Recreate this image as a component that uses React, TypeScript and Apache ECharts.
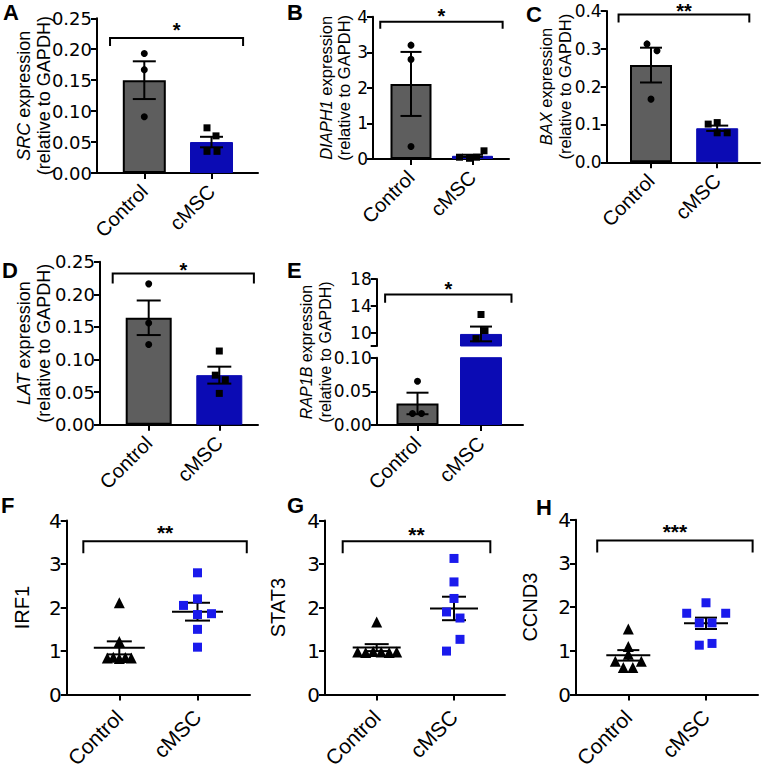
import React, { useEffect, useRef } from "react";
import * as echarts from "echarts";

// ---------- data ----------
const groups = ["Control", "cMSC"];

// A — SRC (bar, mean ± SEM)
const srcMean = [0.15, 0.05];
const srcSem = [0.0305, 0.0085];
const srcCtrl = [0.193, 0.167, 0.091];
const srcCmsc = [0.073, 0.06, 0.035, 0.035];
const srcCtrlJit = [0, 0, 0];
const srcCmscJit = [-4.5, 4.5, -4.5, 5.5];
const srcTicks = [0, 0.05, 0.1, 0.15, 0.2, 0.25];

// B — DIAPH1
const diaMean = [2.11, 0.09];
const diaSem = [0.9, 0.03];
const diaCtrl = [3.2, 2.8, 0.35];
const diaCmsc = [0.23, 0.05, 0.02, 0.05];
const diaCtrlJit = [0, 0, 0];
const diaCmscJit = [11.5, -13, -3, 4];
const diaTicks = [0, 1, 2, 3, 4];

// C — BAX
const baxMean = [0.257, 0.09];
const baxSem = [0.046, 0.007];
const baxCtrl = [0.313, 0.295, 0.167];
const baxCmsc = [0.101, 0.105, 0.078, 0.078];
const baxCtrlJit = [-4, 6, 0];
const baxCmscJit = [-9, 0, 0, 10];
const baxTicks = [0, 0.1, 0.2, 0.3, 0.4];

// D — LAT
const latMean = [0.164, 0.076];
const latSem = [0.0265, 0.013];
const latCtrl = [0.216, 0.156, 0.123];
const latCmsc = [0.113, 0.076, 0.069, 0.048];
const latCtrlJit = [0, 0, 0];
const latCmscJit = [0, -4, 6, 0];
const latTicks = [0, 0.05, 0.1, 0.15, 0.2, 0.25];

// E — RAP1B (broken axis)
const rapMean = [0.032, 9.8];
const rapSem = [0.016, 1.1];
const rapCtrl = [0.065, 0.017, 0.017];
const rapCmsc = [12.7, 10.3, 9.1];
const rapCtrlJit = [0, -5, 4];
const rapCmscJit = [0, 4, -5];
const rapLowTicks = [0, 0.05, 0.1];
const rapHighTicks = [8, 10, 14, 18];
const rapHighLabels = [10, 14, 18];

// F — IRF1 (dot plot, mean ± SEM)
const irfCtrl = [2.11, 1.22, 0.84, 0.86, 0.83, 0.85, 0.84];
const irfCmsc = [2.8, 2.2, 2.05, 1.84, 1.86, 1.5, 1.09];
const irfCtrlJit = [0, 0, -12, -6, 0, 6, 12];
const irfCmscJit = [0, 0, -14, 0, 14, 0, 0];
const irfMean = [1.074, 1.906];
const irfSem = [0.15, 0.205];

// G — STAT3
const statCtrl = [1.67, 0.98, 0.97, 0.99, 0.98, 0.97, 0.98];
const statCmsc = [3.13, 2.59, 2.21, 1.9, 1.76, 1.27, 1.0];
const statCtrlJit = [0, -19, -11, -3.5, 4.5, 12.5, 20];
const statCmscJit = [0, 0, 0, -7.5, 6, 6, -7.5];
const statMean = [1.08, 1.98];
const statSem = [0.08, 0.27];

// H — CCND3
const ccnCtrl = [1.5, 1.1, 0.92, 0.76, 0.76, 0.62, 0.62];
const ccnCmsc = [2.1, 1.86, 1.86, 1.64, 1.64, 1.13, 1.17];
const ccnCtrlJit = [0, 0, 0, -13, 13, -5, 4.5];
const ccnCmscJit = [0, -19.3, 19.7, -6.7, 6, -6.7, 6];
const ccnMean = [0.897, 1.63];
const ccnSem = [0.12, 0.13];

const dotTicks = [0, 1, 2, 3, 4];

// ---------- styles ----------
const BLUE_BAR = "#0b0bb4";
const BLUE_PT = "#1a1aec";
const GRAY = "#5e5e5e";
const TICK_FONT = "DejaVu Sans";
const TEXT_FONT = "Liberation Sans";

type Box = { left: number; right: number; top: number; bottom: number };

function buildOption() {
  const grid: any[] = [];
  const xAxis: any[] = [];
  const yAxis: any[] = [];
  const series: any[] = [];
  const graphic: any[] = [];

  const addGrid = (b: Box) => {
    grid.push({
      left: b.left,
      top: b.top,
      width: b.right - b.left,
      height: b.bottom - b.top,
      containLabel: false,
    });
    return grid.length - 1;
  };

  const addX = (
    gi: number,
    b: Box,
    ctrlPx: number,
    cmPx: number,
    fs: number,
    margin: number,
    show = true
  ) => {
    const unit = cmPx - ctrlPx;
    xAxis.push({
      type: "value",
      gridIndex: gi,
      show,
      min: (b.left - ctrlPx) / unit,
      max: (b.right - ctrlPx) / unit,
      axisLine: { show: true, onZero: false, lineStyle: { color: "#000", width: 2 } },
      axisTick: { show: true, customValues: [0, 1], length: 6, lineStyle: { color: "#000", width: 2 } },
      axisLabel: {
        show: true,
        customValues: [0, 1],
        formatter: (v: number) => groups[Math.round(v)] ?? "",
        rotate: 45,
        margin,
        fontSize: fs,
        fontFamily: TEXT_FONT,
        color: "#000",
      },
      splitLine: { show: false },
    });
    return unit;
  };

  const nameStyle = (fs: number, lh: number) => ({
    fontSize: fs,
    fontFamily: TEXT_FONT,
    color: "#000",
    lineHeight: lh,
    rich: {
      it: { fontStyle: "italic", fontSize: fs, fontFamily: TEXT_FONT, color: "#000", lineHeight: lh },
    },
  });

  const addY = (
    gi: number,
    ticks: number[],
    labels: number[],
    dec: number,
    fs: number,
    name: string,
    nameGap: number,
    nameFs: number,
    lh: number
  ) => {
    yAxis.push({
      type: "value",
      gridIndex: gi,
      min: ticks[0],
      max: ticks[ticks.length - 1],
      axisLine: { show: true, onZero: false, lineStyle: { color: "#000", width: 2 } },
      axisTick: { show: true, customValues: ticks, length: 6, lineStyle: { color: "#000", width: 2 } },
      axisLabel: {
        show: true,
        customValues: labels,
        formatter: (v: number) => v.toFixed(dec),
        margin: 5,
        fontSize: fs,
        fontFamily: TICK_FONT,
        color: "#000",
      },
      splitLine: { show: false },
      name,
      nameLocation: "middle",
      nameRotate: 90,
      nameGap,
      nameMoveOverlap: false,
      nameTextStyle: nameStyle(nameFs, lh),
    });
  };

  const addBars = (gi: number, items: { g: number; v: number }[], bw: number) => {
    series.push({
      type: "bar",
      xAxisIndex: gi,
      yAxisIndex: gi,
      barWidth: bw,
      clip: true,
      z: 2,
      silent: true,
      data: items.map((it) => ({
        value: [it.g, it.v],
        itemStyle:
          it.g === 0
            ? { color: GRAY, borderColor: "#000", borderWidth: 2 }
            : { color: BLUE_BAR, borderColor: BLUE_BAR, borderWidth: 1 },
      })),
    });
  };

  const addErr = (
    gi: number,
    items: { g: number; m: number; s: number }[],
    capHalf: number,
    meanHalf: number
  ) => {
    series.push({
      type: "custom",
      xAxisIndex: gi,
      yAxisIndex: gi,
      z: 3,
      clip: false,
      silent: true,
      encode: { x: 0, y: 1 },
      data: items.map((it) => [it.g, it.m, it.m - it.s, it.m + it.s]),
      renderItem: (_p: any, api: any) => {
        const x = api.value(0);
        const c = api.coord([x, api.value(1)]);
        const a = api.coord([x, api.value(2)]);
        const b = api.coord([x, api.value(3)]);
        const st = { stroke: "#000", lineWidth: 2 };
        const ch: any[] = [
          { type: "line", shape: { x1: c[0], y1: a[1], x2: c[0], y2: b[1] }, style: st },
          { type: "line", shape: { x1: c[0] - capHalf, y1: b[1], x2: c[0] + capHalf, y2: b[1] }, style: st },
          { type: "line", shape: { x1: c[0] - capHalf, y1: a[1], x2: c[0] + capHalf, y2: a[1] }, style: st },
        ];
        if (meanHalf > 0) {
          ch.push({ type: "line", shape: { x1: c[0] - meanHalf, y1: c[1], x2: c[0] + meanHalf, y2: c[1] }, style: st });
        }
        return { type: "group", children: ch };
      },
    });
  };

  const addPts = (
    gi: number,
    g: number,
    vals: number[],
    jit: number[],
    unit: number,
    symbol: string,
    size: number,
    color: string
  ) => {
    series.push({
      type: "scatter",
      xAxisIndex: gi,
      yAxisIndex: gi,
      z: 4,
      silent: true,
      symbol,
      symbolSize: size,
      itemStyle: { color, opacity: 1 },
      data: vals.map((v, i) => [g + jit[i] / unit, v]),
    });
  };

  const addBracket = (
    gi: number,
    x1: number,
    x2: number,
    y: number,
    drop: number,
    stars: string,
    starOff: number,
    starFs: number
  ) => {
    series.push({
      type: "custom",
      xAxisIndex: gi,
      yAxisIndex: gi,
      z: 5,
      clip: false,
      silent: true,
      encode: { x: [0, 1], y: 2 },
      data: [[x1, x2, y]],
      renderItem: (_p: any, api: any) => {
        const a = api.coord([api.value(0), api.value(2)]);
        const b = api.coord([api.value(1), api.value(2)]);
        return {
          type: "group",
          children: [
            {
              type: "polyline",
              shape: { points: [[a[0], a[1] + drop], [a[0], a[1]], [b[0], b[1]], [b[0], b[1] + drop]] },
              style: { stroke: "#000", lineWidth: 2, fill: "none" },
            },
            {
              type: "text",
              x: (a[0] + b[0]) / 2,
              y: a[1] - starOff,
              style: {
                text: stars,
                align: "center",
                verticalAlign: "middle",
                fontSize: starFs,
                fontWeight: "bold",
                fontFamily: TEXT_FONT,
                fill: "#000",
              },
            },
          ],
        };
      },
    });
  };

  // ---- generic bar panel ----
  const barPanel = (
    b: Box,
    ctrlPx: number,
    cmPx: number,
    ticks: number[],
    dec: number,
    tickFs: number,
    title: string,
    nameGap: number,
    nameFs: number,
    lh: number,
    mean: number[],
    sem: number[],
    ctrl: number[],
    cm: number[],
    ctrlJit: number[],
    cmJit: number[],
    bw: number,
    cap: number,
    br: [number, number, number, number, string, number]
  ) => {
    const gi = addGrid(b);
    const unit = addX(gi, b, ctrlPx, cmPx, 20, 15);
    addY(gi, ticks, ticks, dec, tickFs, title, nameGap, nameFs, lh);
    addBars(gi, [{ g: 0, v: mean[0] }, { g: 1, v: mean[1] }], bw);
    addErr(gi, [{ g: 0, m: mean[0], s: sem[0] }, { g: 1, m: mean[1], s: sem[1] }], cap, 0);
    addPts(gi, 0, ctrl, ctrlJit, unit, "circle", 7, "#000");
    addPts(gi, 1, cm, cmJit, unit, "rect", 7, "#000");
    addBracket(gi, br[0], br[1], br[2], br[3], br[4], br[5], 20);
  };

  // ---- generic dot panel ----
  const dotPanel = (
    b: Box,
    ctrlPx: number,
    cmPx: number,
    title: string,
    nameGap: number,
    mean: number[],
    sem: number[],
    ctrl: number[],
    cm: number[],
    ctrlJit: number[],
    cmJit: number[],
    cap: number,
    meanHalf: number,
    br: [number, number, number, number, string, number]
  ) => {
    const gi = addGrid(b);
    const unit = addX(gi, b, ctrlPx, cmPx, 21, 19);
    addY(gi, dotTicks, dotTicks, 0, 20, title, nameGap, 20, 20);
    addPts(gi, 0, ctrl, ctrlJit, unit, "triangle", 11, "#000");
    addPts(gi, 1, cm, cmJit, unit, "rect", 9, BLUE_PT);
    addErr(gi, [{ g: 0, m: mean[0], s: sem[0] }, { g: 1, m: mean[1], s: sem[1] }], cap, meanHalf);
    addBracket(gi, br[0], br[1], br[2], br[3], br[4], br[5], 21);
  };

  // A
  barPanel(
    { left: 97, right: 258, top: 18.3, bottom: 173 },
    144.3, 211.5, srcTicks, 2, 18, "{it|SRC} expression\n(relative to GAPDH)", 43, 18, 20,
    srcMean, srcSem, srcCtrl, srcCmsc, srcCtrlJit, srcCmscJit, 43, 11.5,
    [-0.51, 1.47, 0.218, 8, "*", 8]
  );
  // B
  barPanel(
    { left: 373, right: 509, top: 16.7, bottom: 159 },
    411, 472.5, diaTicks, 0, 17, "{it|DIAPH1} expression\n(relative to GAPDH)", 19.5, 16.5, 18.5,
    diaMean, diaSem, diaCtrl, diaCmsc, diaCtrlJit, diaCmscJit, 41, 10.5,
    [-0.5, 1.49, 3.86, 7, "*", 5.5]
  );
  // C
  barPanel(
    { left: 606.7, right: 760, top: 11, bottom: 162.3 },
    651, 717.2, baxTicks, 1, 17, "{it|BAX} expression\n(relative to GAPDH)", 32, 16.5, 19,
    baxMean, baxSem, baxCtrl, baxCmsc, baxCtrlJit, baxCmscJit, 42, 11,
    [-0.49, 1.485, 0.391, 8, "**", 3]
  );
  // D
  barPanel(
    { left: 100, right: 258, top: 261.7, bottom: 424.7 },
    148.7, 219.3, latTicks, 2, 18, "{it|LAT} expression\n(relative to GAPDH)", 46, 18, 20,
    latMean, latSem, latCtrl, latCmsc, latCtrlJit, latCmscJit, 46, 12,
    [-0.51, 1.49, 0.232, 10, "*", 3]
  );

  // E — broken axis
  {
    const ctrlPx = 417.5;
    const cmPx = 481;
    const up: Box = { left: 376.7, right: 523, top: 279, bottom: 346 };
    const lo: Box = { left: 376.7, right: 523, top: 357.7, bottom: 425 };
    const giU = addGrid(up);
    const unitU = addX(giU, up, ctrlPx, cmPx, 20, 15, false);
    addY(giU, rapHighTicks, rapHighLabels, 0, 17, "", 0, 16, 19);
    const giL = addGrid(lo);
    const unitL = addX(giL, lo, ctrlPx, cmPx, 20, 15);
    addY(giL, rapLowTicks, rapLowTicks, 2, 17, "", 0, 16, 19);
    addBars(giU, [{ g: 1, v: rapMean[1] }], 42);
    addBars(giL, [{ g: 0, v: rapMean[0] }, { g: 1, v: rapMean[1] }], 42);
    addErr(giU, [{ g: 1, m: rapMean[1], s: rapSem[1] }], 11, 0);
    addErr(giL, [{ g: 0, m: rapMean[0], s: rapSem[0] }], 11, 0);
    addPts(giL, 0, rapCtrl, rapCtrlJit, unitL, "circle", 7, "#000");
    addPts(giU, 1, rapCmsc, rapCmscJit, unitU, "rect", 7, "#000");
    addBracket(giU, -0.51, 1.48, 15.7, 8.4, "*", 5, 20);
    // title-only axis spanning both segments
    const giT = addGrid({ left: 376.7, right: 523, top: 279, bottom: 425 });
    xAxis.push({ type: "value", gridIndex: giT, show: false, min: 0, max: 1 });
    yAxis.push({
      type: "value",
      gridIndex: giT,
      min: 0,
      max: 1,
      axisLine: { show: false },
      axisTick: { show: false },
      axisLabel: { show: false },
      splitLine: { show: false },
      name: "{it|RAP1B} expression\n(relative to GAPDH)",
      nameLocation: "middle",
      nameRotate: 90,
      nameGap: 42,
      nameMoveOverlap: false,
      nameTextStyle: nameStyle(16, 19),
    });
  }

  // F
  dotPanel(
    { left: 66.7, right: 250, top: 520.6, bottom: 698.3 },
    119.3, 197.5, "IRF1", 35,
    irfMean, irfSem, irfCtrl, irfCmsc, irfCtrlJit, irfCmscJit, 12.5, 25.5,
    [-0.46, 1.63, 3.525, 12, "**", 9]
  );
  // G
  dotPanel(
    { left: 325, right: 505, top: 520.6, bottom: 697.7 },
    376.7, 454, "STAT3", 37.5,
    statMean, statSem, statCtrl, statCmsc, statCtrlJit, statCmscJit, 12, 24,
    [-0.44, 1.47, 3.525, 12, "**", 6.5]
  );
  // H
  dotPanel(
    { left: 576, right: 758, top: 519.7, bottom: 697.3 },
    628.3, 706, "CCND3", 36,
    ccnMean, ccnSem, ccnCtrl, ccnCmsc, ccnCtrlJit, ccnCmscJit, 11, 22,
    [-0.4, 1.6, 3.525, 12, "***", 8.5]
  );

  // panel letters
  const letters: [string, number, number][] = [
    ["A", 3, 1],
    ["B", 287, 1],
    ["C", 526, 3],
    ["D", 2, 259],
    ["E", 287, 259],
    ["F", 1, 494],
    ["G", 287, 494],
    ["H", 536, 496],
  ];
  letters.forEach(([t, x, y]) =>
    graphic.push({
      type: "text",
      left: x,
      top: y,
      style: { text: t, fontSize: 22, fontWeight: "bold", fontFamily: TEXT_FONT, fill: "#000" },
    })
  );

  return {
    animation: false,
    backgroundColor: "#ffffff",
    grid,
    xAxis,
    yAxis,
    series,
    graphic,
  };
}

export default function App() {
  const ref = useRef<HTMLDivElement>(null);
  useEffect(() => {
    if (!ref.current) return;
    const chart = echarts.init(ref.current, null, { renderer: "svg" });
    chart.setOption(buildOption() as any);
    return () => chart.dispose();
  }, []);
  return (
    <div
      ref={ref}
      style={{ position: "absolute", left: 0, top: 0, width: 762, height: 771 }}
    />
  );
}
